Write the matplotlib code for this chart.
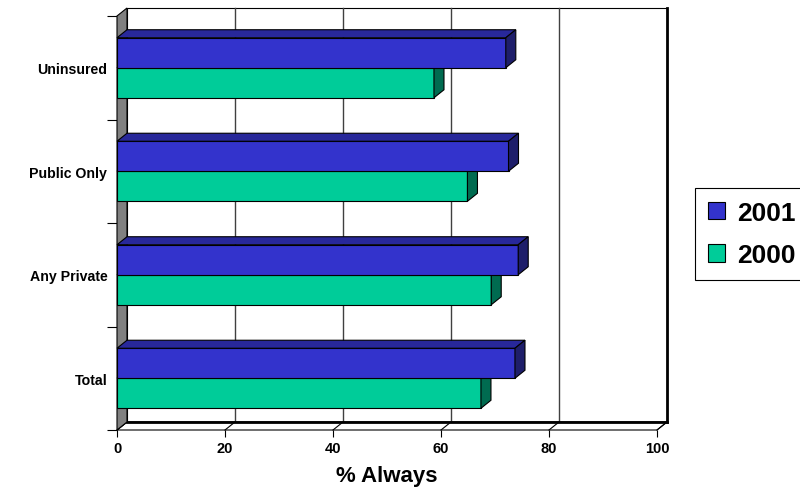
import matplotlib
matplotlib.use("Agg")
import matplotlib.pyplot as plt
from matplotlib.patches import Polygon, Patch

plt.rcParams['font.family'] = ['Liberation Sans', 'DejaVu Sans']
plt.rcParams['font.weight'] = 'bold'

categories = ['Uninsured', 'Public Only', 'Any Private', 'Total']
values_2001 = [72.0, 72.5, 74.3, 73.7]
values_2000 = [58.7, 64.9, 69.3, 67.4]
series_labels = ['2001', '2000']
x_ticks = [0, 20, 40, 60, 80, 100]

front_2001, top_2001, side_2001 = '#3333CC', '#28289A', '#1E1E6A'
front_2000, top_2000, side_2000 = '#00CC99', '#009973', '#006B50'

W, H = 800, 489
fig = plt.figure(figsize=(W / 100, H / 100), dpi=100)
fig.patch.set_facecolor('white')

# front plane of the 3d box, in pixels
left, right, top, bottom = 117, 657, 17, 431
ax = fig.add_axes([left / W, (H - bottom) / H, (right - left) / W, (bottom - top) / H])
ax.set_xlim(0, 100)
ax.set_ylim(-0.5, len(categories) - 0.5)
ax.set_facecolor('none')
for s in ax.spines.values():
    s.set_visible(False)

# depth offset (10 px right, 8 px up) converted to data units
px_x = (right - left) / 100.0
px_y = (bottom - top) / len(categories)
ddx = 10 / px_x
ddy = 8 / px_y

y0, y1 = -0.5, len(categories) - 0.5
lw = 0.8

# back wall
ax.add_patch(Polygon([(ddx, y0 + ddy), (100 + ddx, y0 + ddy), (100 + ddx, y1 + ddy), (ddx, y1 + ddy)],
                     closed=True, facecolor='white', edgecolor='black', lw=lw, clip_on=False, zorder=0))
for v in x_ticks[1:-1]:
    ax.plot([v + ddx, v + ddx], [y0 + ddy, y1 + ddy], color='#404040', lw=1.0, clip_on=False, zorder=1)
ax.plot([100 + ddx, 100 + ddx], [y0 + ddy, y1 + ddy], color='black', lw=2.0, clip_on=False, zorder=2)

# floor
ax.add_patch(Polygon([(0, y0), (100, y0), (100 + ddx, y0 + ddy), (ddx, y0 + ddy)],
                     closed=True, facecolor='white', edgecolor='black', lw=lw, clip_on=False, zorder=1))
for v in x_ticks:
    ax.plot([v, v + ddx], [y0, y0 + ddy], color='black', lw=lw, clip_on=False, zorder=2)
ax.plot([ddx, 100 + ddx], [y0 + ddy, y0 + ddy], color='black', lw=2.0, clip_on=False, zorder=2)

# left wall
ax.add_patch(Polygon([(0, y0), (ddx, y0 + ddy), (ddx, y1 + ddy), (0, y1)],
                     closed=True, facecolor='#808080', edgecolor='black', lw=lw, clip_on=False, zorder=2))

# bars
pos = [len(categories) - 1 - i for i in range(len(categories))]
h = 0.29


def bar3d(y_lo, v, c_front, c_top, c_side):
    ax.barh(y_lo, v, height=h, align='edge', color=c_front, edgecolor='black', lw=lw, zorder=4)
    ax.add_patch(Polygon([(0, y_lo + h), (v, y_lo + h), (v + ddx, y_lo + h + ddy), (ddx, y_lo + h + ddy)],
                         closed=True, facecolor=c_top, edgecolor='black', lw=lw, zorder=4, clip_on=False))
    ax.add_patch(Polygon([(v, y_lo), (v + ddx, y_lo + ddy), (v + ddx, y_lo + h + ddy), (v, y_lo + h)],
                         closed=True, facecolor=c_side, edgecolor='black', lw=lw, zorder=4, clip_on=False))


for p, a, b in zip(pos, values_2001, values_2000):
    bar3d(p - h, b, front_2000, top_2000, side_2000)
    bar3d(p, a, front_2001, top_2001, side_2001)

# axes ticks and labels
ax.set_xticks(x_ticks)
ax.set_xticklabels([str(t) for t in x_ticks], fontsize=10.5, fontweight='bold')
ax.tick_params(axis='x', length=5, width=lw, pad=3)
ax.set_yticks([y0 + k for k in range(len(categories) + 1)])
ax.set_yticklabels([])
ax.tick_params(axis='y', which='major', length=7, width=lw)
ax.set_yticks(pos, minor=True)
ax.set_yticklabels(categories, minor=True, fontsize=10.2, fontweight='bold')
ax.tick_params(axis='y', which='minor', length=0, pad=7)

ax.set_xlabel('% Always', fontsize=16, fontweight='bold', labelpad=7)

handles = [Patch(facecolor=front_2001, edgecolor='black', lw=lw),
           Patch(facecolor=front_2000, edgecolor='black', lw=lw)]
leg = fig.legend(handles, series_labels, loc='upper left', bbox_to_anchor=(695 / W, 1 - 189 / H),
                 prop={'size': 19, 'weight': 'bold'}, fancybox=False, edgecolor='black',
                 handlelength=0.65, handleheight=0.65, handletextpad=0.45, labelspacing=0.7,
                 borderpad=0.48, borderaxespad=0, framealpha=1)
leg.get_frame().set_linewidth(lw)

fig.savefig('out.png', dpi=100)
